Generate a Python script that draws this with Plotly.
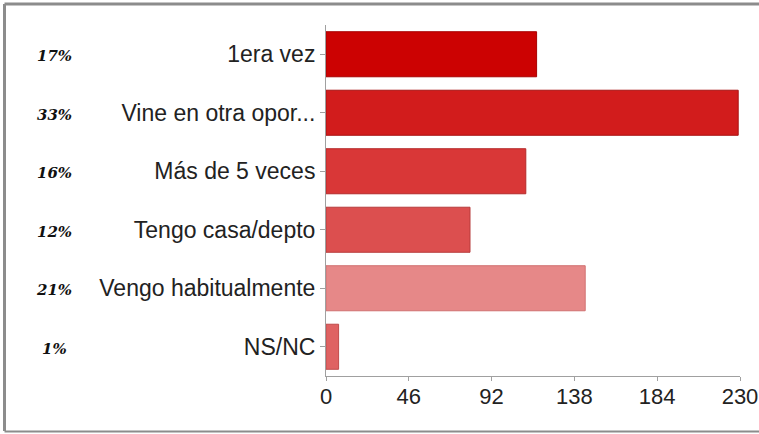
import plotly.graph_objects as go

# Survey answers, top to bottom
categories = ["1era vez", "Vine en otra opor...", "Más de 5 veces",
              "Tengo casa/depto", "Vengo habitualmente", "NS/NC"]
counts = [117, 229, 111, 80, 144, 7]
percent_labels = ["17%", "33%", "16%", "12%", "21%", "1%"]
bar_colors = ["#cc0202", "#d21c1c", "#d93737", "#dc4f4f", "#e68888", "#df6262"]
edge_colors = ["#a80000", "#a81212", "#b52a2a", "#b83c3c", "#d07070", "#c04c4c"]
x_ticks = [0, 46, 92, 138, 184, 230]

W, H = 759, 434
ML, MR, MT, MB = 326, 19, 25, 58
plot_w = W - ML - MR
plot_h = H - MT - MB


def px_x(px):
    return (px - ML) / plot_w


def px_y(py):
    return (H - MB - py) / plot_h


fig = go.Figure(go.Bar(
    x=counts,
    y=categories,
    orientation="h",
    marker=dict(color=bar_colors, line=dict(color=edge_colors, width=1)),
    hoverinfo="x+y",
))

# Percentage labels at the far left
annotations = []
for cat, lab in zip(categories, percent_labels):
    annotations.append(dict(
        x=px_x(54), xref="paper", y=cat, yref="y", yshift=-2,
        text=f"<b><i>{lab}</i></b>", showarrow=False,
        xanchor="center", yanchor="middle",
        font=dict(family="DejaVu Serif", size=15, color="#111111"),
    ))

# Grey frame around the chart
frame_color = "#8c8c8c"
shapes = [
    dict(type="line", xref="paper", yref="paper",
         x0=px_x(4.5), x1=px_x(759), y0=px_y(4), y1=px_y(4),
         line=dict(color=frame_color, width=3)),
    dict(type="line", xref="paper", yref="paper",
         x0=px_x(4.5), x1=px_x(4.5), y0=px_y(4), y1=px_y(431),
         line=dict(color=frame_color, width=3)),
    dict(type="line", xref="paper", yref="paper",
         x0=px_x(4.5), x1=px_x(759), y0=px_y(431.5), y1=px_y(431.5),
         line=dict(color=frame_color, width=2)),
]

fig.update_layout(
    width=W, height=H, autosize=False,
    margin=dict(l=ML, r=MR, t=MT, b=MB, pad=0),
    paper_bgcolor="white", plot_bgcolor="white",
    showlegend=False,
    bargap=0.23,
    font=dict(family="Liberation Sans, Arial, sans-serif", color="#222222"),
    annotations=annotations,
    shapes=shapes,
    xaxis=dict(
        range=[0, 230], tickvals=x_ticks, ticktext=[str(v) for v in x_ticks],
        showgrid=False, zeroline=False, automargin=False,
        showline=True, linecolor="#a0a0a0", linewidth=1,
        ticks="outside", ticklen=4, tickcolor="#a0a0a0",
        ticklabelstandoff=-3,
        tickfont=dict(size=22, color="#222222"),
    ),
    yaxis=dict(
        autorange="reversed", automargin=False,
        showgrid=False, zeroline=False,
        showline=True, linecolor="#a0a0a0", linewidth=1,
        ticks="outside", ticklen=5, tickcolor="#a0a0a0",
        tickfont=dict(size=23, color="#222222"),
    ),
)

fig.write_html("out.html")
